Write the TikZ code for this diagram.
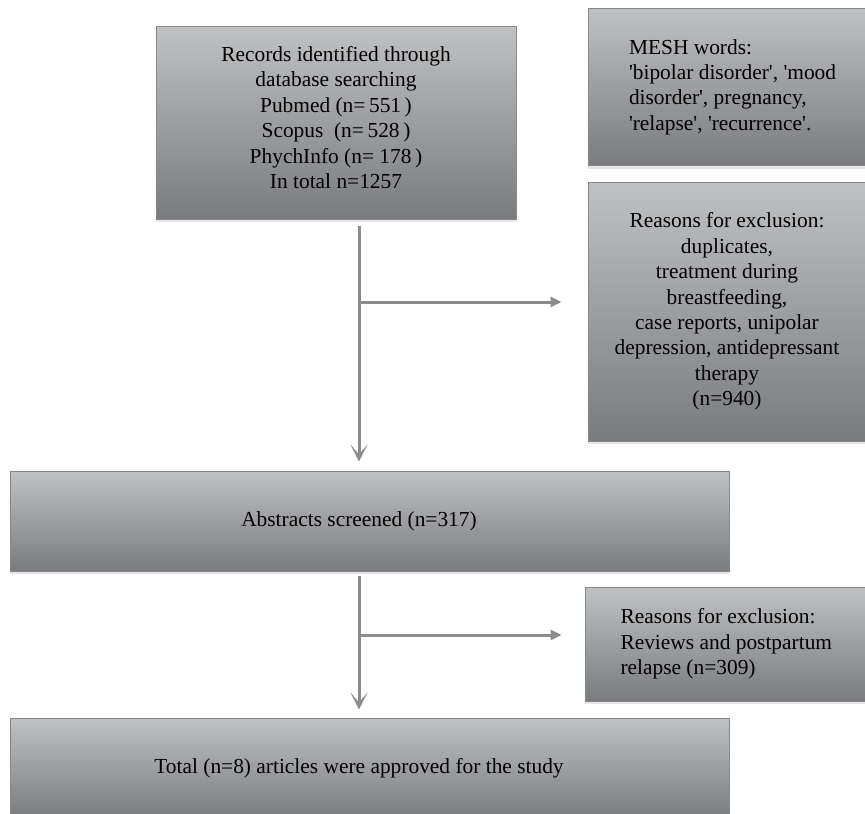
\documentclass[tikz,border=0pt]{standalone}
\usepackage{fontspec}
\setmainfont{Liberation Serif}[Ligatures=TeXOff]
\usetikzlibrary{arrows.meta, shadows}

\definecolor{boxtop}{RGB}{192,193,195}
\definecolor{boxbottom}{RGB}{122,123,126}
\definecolor{boxline}{RGB}{135,136,138}
\definecolor{flowgray}{RGB}{140,140,142}

\begin{document}
\begin{tikzpicture}[
    x=1pt, y=-1pt, % one unit per pixel, y pointing down
    box/.style={draw=boxline, line width=1pt, top color=boxtop, bottom color=boxbottom,
        drop shadow={shadow xshift=0pt, shadow yshift=-3pt, opacity=0.2},
        font=\fontsize{21.4}{25.4}\selectfont, inner sep=0pt}, % Style for grey boxes
    flow/.style={draw=flowgray, line width=3pt} % Style for connectors
]

% Page
\fill[white] (0,0) rectangle (865,814);
\clip (0,0) rectangle (865,814);

% Boxes
\node[box, minimum width=360pt, minimum height=193pt, align=center] (records) at (336,122.5)
    {Records identified through\\ database searching\\ Pubmed (n=\,551\,)\\ Scopus\ \ (n=\,528\,)\\
     PhychInfo (n= 178\,)\\ In total n=1257\rule[-10pt]{0pt}{10pt}};
\node[box, minimum height=157pt, text width=250pt, align=flush left, inner xsep=41pt] (mesh) at (754,87)
    {MESH words:\\ 'bipolar disorder', 'mood\\ disorder', pregnancy,\\ 'relapse', 'recurrence'.};
\node[box, minimum width=278pt, minimum height=259pt, align=center] (excl1) at (727,311.5)
    {Reasons for exclusion:\\ duplicates,\\ treatment during\\ breastfeeding,\\ case reports, unipolar\\
     depression, antidepressant\\ therapy\\ (n=940)};
\node[box, minimum width=719pt, minimum height=100pt] (abstracts) at (369.5,521)
    {Abstracts screened (n=317)\hspace*{21pt}};
\node[box, minimum height=114pt, text width=250pt, align=flush left, inner xsep=35.5pt] (excl2) at (745.5,644)
    {Reasons for exclusion:\\ Reviews and postpartum\\ relapse (n=309)};
\node[box, minimum width=719pt, minimum height=100pt] (total) at (369.5,768)
    {Total (n=8) articles were approved for the study\hspace*{21pt}};

% Arrows, first step
\coordinate (down1) at (359,226);
\coordinate (side1) at (359,302);
\draw[flow, -{Stealth[length=17pt, width=17pt, inset=10pt]}, shorten >=9pt] (down1) -- (down1 |- abstracts.north);
\draw[flow, -{Triangle[length=11pt, width=10pt]}, shorten >=26pt] (side1) -- (side1 -| excl1.west);

% Arrows, second step
\coordinate (down2) at (359,576);
\coordinate (side2) at (359,635);
\draw[flow, -{Stealth[length=17pt, width=17pt, inset=10pt]}, shorten >=8pt] (down2) -- (down2 |- total.north);
\draw[flow, -{Triangle[length=11pt, width=10pt]}, shorten >=23pt] (side2) -- (side2 -| excl2.west);

\end{tikzpicture}
\end{document}
